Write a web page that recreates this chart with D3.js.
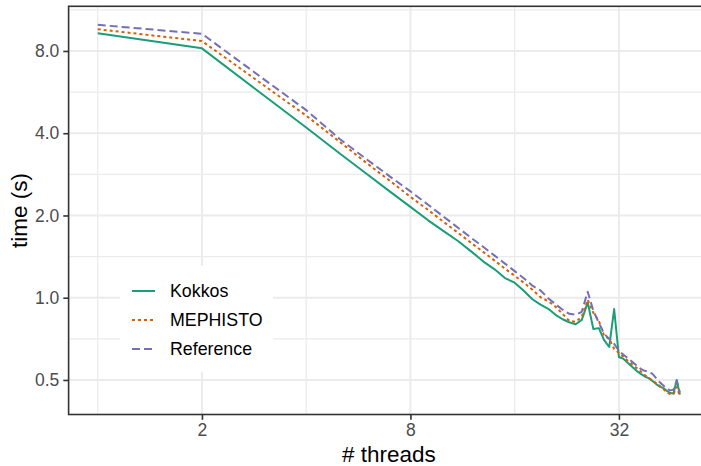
<!DOCTYPE html>
<html><head><meta charset="utf-8">
<script src="https://cdn.jsdelivr.net/npm/d3@7"></script>
<style>html,body{margin:0;padding:0;background:#fff;}svg{display:block;}</style>
</head><body>
<svg id="chart" width="701" height="466"></svg>
<script>
const threads = [1,2,3,4,5,6,7,8,9,10,11,12,13,14,15,16,17,18,19,20,21,22,23,24,25,26,27,28,29,30,31,32,33,34,35,36,37,38,39,40,41,42,43,44,45,46,47,48];
const kokkos = [9.29,8.18,5.53,4.2,3.37,2.83,2.44,2.15,1.92,1.75,1.61,1.475,1.356,1.27,1.18,1.135,1.06,0.987,0.943,0.911,0.866,0.834,0.813,0.80,0.83,0.96,0.768,0.774,0.70,0.66,0.909,0.607,0.597,0.577,0.558,0.54,0.526,0.515,0.508,0.496,0.483,0.473,0.467,0.456,0.448,0.446,0.50,0.442];
const mephisto = [9.61,8.7,6.02,4.64,3.72,3.10,2.67,2.34,2.095,1.89,1.725,1.585,1.469,1.367,1.278,1.204,1.135,1.07,1.004,0.971,0.927,0.873,0.823,0.816,0.852,0.983,0.88,0.823,0.725,0.707,0.65,0.628,0.607,0.587,0.57,0.553,0.537,0.521,0.508,0.498,0.487,0.475,0.463,0.45,0.444,0.445,0.471,0.437];
const reference = [9.97,9.25,6.34,4.86,3.81,3.20,2.77,2.45,2.19,1.975,1.80,1.654,1.533,1.426,1.333,1.251,1.179,1.107,1.063,0.996,0.947,0.904,0.873,0.866,0.888,1.052,0.896,0.81,0.738,0.707,0.678,0.639,0.618,0.60,0.582,0.565,0.549,0.54,0.535,0.526,0.508,0.49,0.477,0.465,0.458,0.46,0.496,0.45];
const seriesNames = ["Kokkos","MEPHISTO","Reference"];
const seriesColors = ["#1B9E77","#D95F02","#7570B3"];
const seriesDash = [null,"3,3","8,4"];
const xTicks = [2,8,32];
const xTickLabels = ["2","8","32"];
const xMinor = [1,4,16];
const yTicks = [0.5,1,2,4,8];
const yTickLabels = ["0.5","1.0","2.0","4.0","8.0"];
const yMinor = [0.7071,1.4142,2.8284,5.6569,11.3137];

(function(){
const series = [kokkos, mephisto, reference];
const FONT = "'Liberation Sans', Arial, Helvetica, sans-serif";
const svg = d3.select("#chart");
const pL = 68.6, pR = 709, pT = 6.3, pB = 414.5;

const lx = d3.extent(threads).map(Math.log2);
const ex = (lx[1]-lx[0])*0.05;
const x = d3.scaleLog().base(2).domain([2**(lx[0]-ex), 2**(lx[1]+ex)]).range([pL, pR]);
const allY = series.flat();
const ly = d3.extent(allY).map(Math.log2);
const ey = (ly[1]-ly[0])*0.05;
const y = d3.scaleLog().base(2).domain([2**(ly[0]-ey), 2**(ly[1]+ey)]).range([pB, pT]);

const defs = svg.append("defs");
defs.append("clipPath").attr("id","clip").append("rect")
  .attr("x",pL).attr("y",pT).attr("width",pR-pL).attr("height",pB-pT);

const grid = svg.append("g");
grid.selectAll(".xmin").data(xMinor.filter(d=>x(d)>=pL&&x(d)<=pR)).join("line")
  .attr("x1",d=>x(d)).attr("x2",d=>x(d)).attr("y1",pT).attr("y2",pB)
  .attr("stroke","#EBEBEB").attr("stroke-width",1.3);
grid.selectAll(".ymin").data(yMinor.filter(d=>y(d)>=pT&&y(d)<=pB)).join("line")
  .attr("x1",pL).attr("x2",pR).attr("y1",d=>y(d)).attr("y2",d=>y(d))
  .attr("stroke","#EBEBEB").attr("stroke-width",1.3);
grid.selectAll(".xmaj").data(xTicks).join("line")
  .attr("x1",d=>x(d)).attr("x2",d=>x(d)).attr("y1",pT).attr("y2",pB)
  .attr("stroke","#EBEBEB").attr("stroke-width",2);
grid.selectAll(".ymaj").data(yTicks).join("line")
  .attr("x1",pL).attr("x2",pR).attr("y1",d=>y(d)).attr("y2",d=>y(d))
  .attr("stroke","#EBEBEB").attr("stroke-width",2);

const line = d3.line().x((d,i)=>x(threads[i])).y(d=>y(d));
const lines = svg.append("g").attr("clip-path","url(#clip)");
series.forEach((s,k)=>{
  lines.append("path").datum(s).attr("d",line).attr("fill","none")
    .attr("stroke",seriesColors[k]).attr("stroke-width",2)
    .attr("stroke-dasharray",seriesDash[k]).attr("stroke-linejoin","round");
});

// legend
const lg = svg.append("g");
lg.append("rect").attr("x",120).attr("y",266).attr("width",153).attr("height",106).attr("fill","#fff");
const itemY = [291, 320, 349];
seriesNames.forEach((n,k)=>{
  lg.append("line").attr("x1",132).attr("x2",155).attr("y1",itemY[k]).attr("y2",itemY[k])
    .attr("stroke",seriesColors[k]).attr("stroke-width",2).attr("stroke-dasharray",seriesDash[k]);
  lg.append("text").attr("x",170).attr("y",itemY[k]+6).text(n)
    .attr("font-family",FONT).attr("font-size",17.8).attr("fill","#000");
});

// panel border
svg.append("rect").attr("x",pL).attr("y",pT).attr("width",pR-pL).attr("height",pB-pT)
  .attr("fill","none").attr("stroke","#333333").attr("stroke-width",1.6);

// axes
const xAxis = d3.axisBottom(x).tickValues(xTicks).tickFormat((d,i)=>xTickLabels[i]).tickSize(5.3).tickPadding(4);
const gx = svg.append("g").attr("transform",`translate(0,${pB})`).call(xAxis);
gx.select(".domain").remove();
gx.selectAll(".tick line").attr("stroke","#333333").attr("stroke-width",1.6);
gx.selectAll(".tick text").attr("font-family",FONT).attr("font-size",17.5).attr("fill","#4D4D4D");

const yAxis = d3.axisLeft(y).tickValues(yTicks).tickFormat((d,i)=>yTickLabels[i]).tickSize(5.3).tickPadding(4);
const gy = svg.append("g").attr("transform",`translate(${pL},0)`).call(yAxis);
gy.select(".domain").remove();
gy.selectAll(".tick line").attr("stroke","#333333").attr("stroke-width",1.6);
gy.selectAll(".tick text").attr("font-family",FONT).attr("font-size",17.5).attr("fill","#4D4D4D");

svg.append("text").attr("x",(pL+pR)/2).attr("y",462).attr("text-anchor","middle")
  .attr("font-family",FONT).attr("font-size",22.5).attr("fill","#000").text("# threads");
svg.append("text").attr("transform",`translate(27,${(pT+pB)/2}) rotate(-90)`).attr("text-anchor","middle")
  .attr("font-family",FONT).attr("font-size",22.5).attr("fill","#000").text("time (s)");
})();
</script>
</body></html>
